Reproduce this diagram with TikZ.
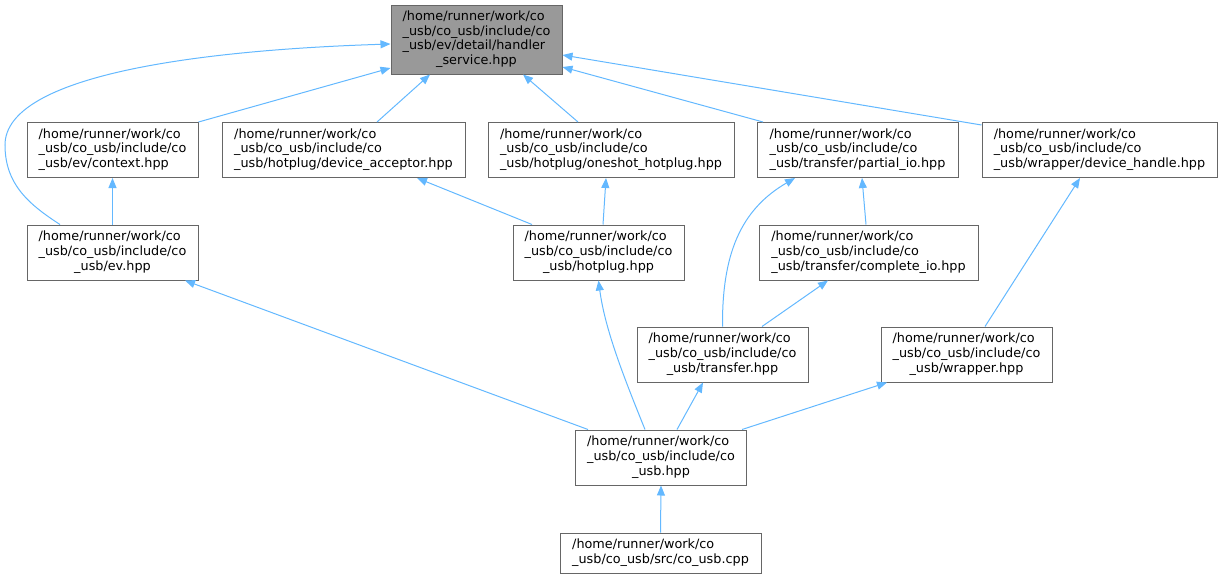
\documentclass[tikz,border=0pt]{standalone}
\usepackage{fontspec}
\setmainfont{DejaVu Sans}
\usetikzlibrary{arrows.meta}
\definecolor{edgeblue}{HTML}{63B8FF}
\definecolor{boxline}{HTML}{666666}
\definecolor{rootfill}{HTML}{999999}
\newcommand\tbl[1]{\begin{tabular}{@{}l@{}}#1\end{tabular}}
\newcommand\cl[1]{\multicolumn{1}{@{}c@{}}{#1}}
\begin{document}
\begin{tikzpicture}[x=1pt,y=-1pt,
  box/.style={draw=boxline, line width=1pt, fill=white, inner sep=0pt,
    font=\fontsize{12.8}{14.7}\selectfont, minimum height=55pt},
  rootbox/.style={box, fill=rootfill, minimum height=69pt},
  edge/.style={draw=edgeblue, line width=1pt, -{Triangle[length=10pt,width=8pt]}}]
\useasboundingbox (0,0) rectangle (1222,579);
% nodes
\node[rootbox, minimum width=171pt] (top) at (476.5,39.5)
  {\tbl{/home/runner/work/co\\\_usb/co\_usb/include/co\\\_usb/ev/detail/handler\\\cl{\_service.hpp}}};
\node[box, minimum width=171pt] (ctx) at (112.5,150)
  {\tbl{/home/runner/work/co\\\_usb/co\_usb/include/co\\\_usb/ev/context.hpp}};
\node[box, minimum width=243pt] (acc) at (343.5,150)
  {\tbl{/home/runner/work/co\\\_usb/co\_usb/include/co\\\_usb/hotplug/device\_acceptor.hpp}};
\node[box, minimum width=246pt] (one) at (611,150)
  {\tbl{/home/runner/work/co\\\_usb/co\_usb/include/co\\\_usb/hotplug/oneshot\_hotplug.hpp}};
\node[box, minimum width=201pt] (pio) at (857.5,150)
  {\tbl{/home/runner/work/co\\\_usb/co\_usb/include/co\\\_usb/transfer/partial\_io.hpp}};
\node[box, minimum width=235pt] (dh) at (1099.5,150)
  {\tbl{/home/runner/work/co\\\_usb/co\_usb/include/co\\\_usb/wrapper/device\_handle.hpp}};
\node[box, minimum width=171pt] (ev) at (112.5,252.5)
  {\tbl{/home/runner/work/co\\\_usb/co\_usb/include/co\\\cl{\_usb/ev.hpp}}};
\node[box, minimum width=171pt] (hp) at (598.5,252.5)
  {\tbl{/home/runner/work/co\\\_usb/co\_usb/include/co\\\cl{\_usb/hotplug.hpp}}};
\node[box, minimum width=219pt] (cio) at (868.5,252.5)
  {\tbl{/home/runner/work/co\\\_usb/co\_usb/include/co\\\_usb/transfer/complete\_io.hpp}};
\node[box, minimum width=171pt] (tr) at (722.5,354.5)
  {\tbl{/home/runner/work/co\\\_usb/co\_usb/include/co\\\cl{\_usb/transfer.hpp}}};
\node[box, minimum width=171pt] (wr) at (966.5,354.5)
  {\tbl{/home/runner/work/co\\\_usb/co\_usb/include/co\\\cl{\_usb/wrapper.hpp}}};
\node[box, minimum width=171pt] (cu) at (661,457.5)
  {\tbl{/home/runner/work/co\\\_usb/co\_usb/include/co\\\cl{\_usb.hpp}}};
\node[box, minimum width=201pt, minimum height=40pt] (cpp) at (660.5,553)
  {\tbl{/home/runner/work/co\\\_usb/co\_usb/src/co\_usb.cpp}};
% edges
\draw[edge] ([xshift=-52.5pt]ev.north) .. controls (30,205) and (5,185) .. (5,145)
  .. controls (5,75) and (200,50) .. ([yshift=-4.5pt]top.west);
\draw[edge] (ctx.north east) -- ([yshift=-28.5pt]top.west);
\draw[edge] ([xshift=33.5pt]acc.north) -- ([xshift=-46.5pt]top.south);
\draw[edge] ([xshift=-33pt]one.north) -- ([xshift=46.5pt]top.south);
\draw[edge] ([xshift=-94.5pt]pio.north) -- ([yshift=-27.5pt]top.east);
\draw[edge] ([yshift=25pt]dh.west) -- ([yshift=-15.5pt]top.east);
\draw[edge] (ev.north) -- (ctx.south);
\draw[edge] ([xshift=-66.5pt]hp.north) -- ([xshift=73.5pt]acc.south);
\draw[edge] ([xshift=4.5pt]hp.north) -- ([xshift=-5pt]one.south);
\draw[edge] ([xshift=-2.5pt]cio.north) -- ([xshift=4.5pt]pio.south);
\draw[edge] (tr.north) .. controls (722,255) and (740,210) .. ([xshift=-62.5pt]pio.south);
\draw[edge] ([xshift=39.5pt]tr.north) -- ([xshift=-40.5pt]cio.south);
\draw[edge] ([xshift=18.5pt]wr.north) -- ([xshift=-19.5pt]dh.south);
\draw[edge] ([xshift=-73pt]cu.north) -- ([xshift=72.5pt]ev.south);
\draw[edge] ([xshift=-16pt]cu.north) .. controls (625,380) and (605,330) .. (hp.south);
\draw[edge] ([xshift=16pt]cu.north) -- ([xshift=-19.5pt]tr.south);
\draw[edge] ([xshift=81pt]cu.north) -- ([xshift=-79.5pt]wr.south);
\draw[edge] (cpp.north) -- (cu.south);
\end{tikzpicture}
\end{document}
